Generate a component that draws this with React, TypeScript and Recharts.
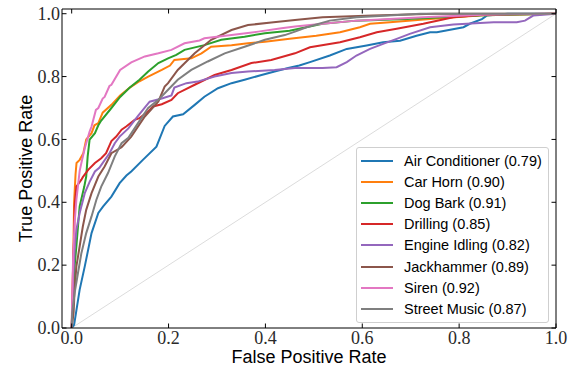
import { Legend, Line, LineChart, ReferenceLine, XAxis, YAxis } from "recharts"

const classNames = [
  "Air Conditioner",
  "Car Horn",
  "Dog Bark",
  "Drilling",
  "Engine Idling",
  "Jackhammer",
  "Siren",
  "Street Music",
]
const aucScores = [0.79, 0.9, 0.91, 0.85, 0.82, 0.89, 0.92, 0.87]
const colors = ["#1f77b4", "#ff7f0e", "#2ca02c", "#d62728", "#9467bd", "#8c564b", "#e377c2", "#7f7f7f"]

const tickValues = [0, 0.2, 0.4, 0.6, 0.8, 1.0]

const airConditionerFpr = [0, 0.005, 0.0165, 0.027, 0.041, 0.055, 0.065, 0.082, 0.099, 0.113, 0.123, 0.147, 0.175, 0.192, 0.209, 0.23, 0.254, 0.274, 0.302, 0.33, 0.357, 0.392, 0.419, 0.447, 0.47, 0.492, 0.533, 0.568, 0.609, 0.643, 0.678, 0.712, 0.74, 0.754, 0.809, 0.822, 0.847, 0.857, 0.9, 1]
const airConditionerTpr = [0, 0.01, 0.122, 0.196, 0.302, 0.366, 0.387, 0.418, 0.461, 0.485, 0.498, 0.535, 0.577, 0.643, 0.673, 0.68, 0.71, 0.736, 0.763, 0.779, 0.79, 0.805, 0.816, 0.827, 0.835, 0.846, 0.867, 0.888, 0.899, 0.909, 0.914, 0.93, 0.941, 0.941, 0.957, 0.968, 0.983, 0.994, 1, 1]

const carHornFpr = [0, 0.003, 0.005, 0.008, 0.01, 0.0165, 0.024, 0.03, 0.041, 0.047, 0.055, 0.064, 0.082, 0.1, 0.12, 0.14, 0.158, 0.186, 0.203, 0.212, 0.247, 0.268, 0.288, 0.33, 0.364, 0.399, 0.45, 0.505, 0.554, 0.595, 0.616, 0.657, 0.74, 0.85, 1]
const carHornTpr = [0, 0.2, 0.4, 0.49, 0.525, 0.535, 0.556, 0.6, 0.62, 0.645, 0.652, 0.685, 0.71, 0.74, 0.765, 0.785, 0.8, 0.821, 0.835, 0.853, 0.858, 0.874, 0.895, 0.9, 0.906, 0.911, 0.92, 0.93, 0.941, 0.957, 0.968, 0.973, 0.983, 0.995, 1]

const dogBarkFpr = [0, 0.004, 0.006, 0.0097, 0.013, 0.0165, 0.026, 0.03, 0.033, 0.037, 0.048, 0.055, 0.061, 0.082, 0.1, 0.12, 0.14, 0.158, 0.179, 0.199, 0.216, 0.233, 0.274, 0.309, 0.357, 0.399, 0.45, 0.518, 0.588, 0.692, 0.85, 1]
const dogBarkTpr = [0, 0.1, 0.196, 0.26, 0.323, 0.387, 0.45, 0.482, 0.546, 0.599, 0.62, 0.645, 0.66, 0.7, 0.735, 0.765, 0.79, 0.816, 0.843, 0.858, 0.869, 0.885, 0.9, 0.917, 0.927, 0.938, 0.946, 0.968, 0.978, 0.983, 0.995, 1]

const drillingFpr = [0, 0.002, 0.003, 0.005, 0.006, 0.0097, 0.02, 0.023, 0.034, 0.048, 0.061, 0.071, 0.082, 0.092, 0.103, 0.1125, 0.13, 0.14, 0.158, 0.168, 0.186, 0.206, 0.219, 0.254, 0.295, 0.33, 0.371, 0.412, 0.461, 0.492, 0.554, 0.595, 0.63, 0.671, 0.726, 0.788, 0.85, 1]
const drillingTpr = [0, 0.1, 0.217, 0.281, 0.387, 0.45, 0.472, 0.48, 0.503, 0.525, 0.54, 0.556, 0.595, 0.609, 0.631, 0.641, 0.662, 0.668, 0.689, 0.705, 0.712, 0.726, 0.747, 0.774, 0.805, 0.821, 0.843, 0.853, 0.874, 0.893, 0.909, 0.925, 0.941, 0.952, 0.968, 0.989, 0.997, 1]

const engineIdlingFpr = [0, 0.002, 0.003, 0.006, 0.0097, 0.0165, 0.027, 0.037, 0.048, 0.057, 0.078, 0.089, 0.099, 0.117, 0.137, 0.161, 0.186, 0.206, 0.212, 0.237, 0.26, 0.295, 0.33, 0.364, 0.419, 0.461, 0.518, 0.547, 0.568, 0.588, 0.616, 0.643, 0.671, 0.698, 0.74, 0.788, 0.871, 0.919, 0.936, 0.953, 1]
const engineIdlingTpr = [0, 0.08, 0.154, 0.249, 0.313, 0.366, 0.429, 0.465, 0.498, 0.51, 0.556, 0.588, 0.609, 0.635, 0.675, 0.72, 0.73, 0.74, 0.765, 0.779, 0.784, 0.8, 0.811, 0.816, 0.821, 0.827, 0.827, 0.83, 0.846, 0.867, 0.888, 0.904, 0.92, 0.936, 0.957, 0.966, 0.973, 0.973, 0.978, 0.994, 1]

const jackhammerFpr = [0, 0.004, 0.006, 0.0097, 0.0165, 0.023, 0.03, 0.041, 0.055, 0.068, 0.082, 0.103, 0.123, 0.151, 0.179, 0.192, 0.199, 0.219, 0.254, 0.288, 0.33, 0.364, 0.412, 0.461, 0.518, 0.622, 0.75, 1]
const jackhammerTpr = [0, 0.05, 0.122, 0.196, 0.26, 0.323, 0.376, 0.429, 0.482, 0.514, 0.556, 0.575, 0.609, 0.673, 0.721, 0.768, 0.779, 0.821, 0.874, 0.917, 0.948, 0.964, 0.972, 0.98, 0.989, 0.994, 1, 1]

const sirenFpr = [0, 0.001, 0.003, 0.006, 0.0097, 0.0165, 0.02, 0.027, 0.037, 0.041, 0.05, 0.055, 0.064, 0.068, 0.078, 0.082, 0.1, 0.123, 0.151, 0.179, 0.206, 0.233, 0.264, 0.274, 0.33, 0.385, 0.433, 0.461, 0.518, 0.588, 0.725, 0.85, 1]
const sirenTpr = [0, 0.09, 0.228, 0.334, 0.408, 0.5, 0.525, 0.572, 0.625, 0.641, 0.694, 0.7, 0.73, 0.735, 0.77, 0.774, 0.821, 0.845, 0.864, 0.874, 0.885, 0.906, 0.915, 0.922, 0.932, 0.943, 0.954, 0.959, 0.968, 0.978, 0.989, 0.997, 1]

const streetMusicFpr = [0, 0.001, 0.006, 0.013, 0.02, 0.03, 0.041, 0.051, 0.061, 0.075, 0.089, 0.103, 0.117, 0.137, 0.158, 0.179, 0.199, 0.219, 0.247, 0.281, 0.316, 0.357, 0.399, 0.44, 0.461, 0.485, 0.533, 0.588, 0.72, 1]
const streetMusicTpr = [0, 0.048, 0.111, 0.175, 0.238, 0.302, 0.355, 0.408, 0.45, 0.493, 0.546, 0.588, 0.605, 0.652, 0.7, 0.726, 0.758, 0.79, 0.821, 0.848, 0.874, 0.895, 0.917, 0.932, 0.943, 0.957, 0.978, 0.989, 1, 1]

const chanceFpr = [0, 1]
const chanceTpr = [0, 1]

const fprLists = [airConditionerFpr, carHornFpr, dogBarkFpr, drillingFpr, engineIdlingFpr, jackhammerFpr, sirenFpr, streetMusicFpr]
const tprLists = [airConditionerTpr, carHornTpr, dogBarkTpr, drillingTpr, engineIdlingTpr, jackhammerTpr, sirenTpr, streetMusicTpr]

const zip = (fpr: number[], tpr: number[]) => fpr.map((f, i) => ({ fpr: f, tpr: tpr[i] }))

const curves = classNames.map((name, i) => ({
  name,
  label: `${name} (${aucScores[i].toFixed(2)})`,
  color: colors[i],
  data: zip(fprLists[i], tprLists[i]),
}))
const chanceData = zip(chanceFpr, chanceTpr)

const X_MIN = -0.02
const X_MAX = 1
const Y_MIN = 0
const Y_MAX = 1.015

const serif = "'Liberation Serif', 'DejaVu Serif', serif"
const sans = "'Liberation Sans', Arial, sans-serif"
const TICK = 4.5
// inward tick length for top/right spines, in data units (plot is 494 x 319 px)
const TOP_TICK = (TICK / 319) * (Y_MAX - Y_MIN)
const RIGHT_TICK = (TICK / 494) * (X_MAX - X_MIN)

function BottomTick(props: any) {
  const { x, y, payload } = props
  const y0 = y - 3
  return (
    <g>
      <line x1={x} x2={x} y1={y0} y2={y0 - TICK} stroke="#000" strokeWidth={1} />
      <text x={x} y={y} dy="0.72em" textAnchor="middle" fontFamily={serif} fontSize={18} fill="#2a2a2a">
        {payload.value.toFixed(1)}
      </text>
    </g>
  )
}

function LeftTick(props: any) {
  const { x, y, payload } = props
  const x0 = x + 2
  return (
    <g>
      <line x1={x0} x2={x0 + TICK} y1={y} y2={y} stroke="#000" strokeWidth={1} />
      <text x={x} y={y} dy="0.34em" textAnchor="end" fontFamily={serif} fontSize={18} fill="#2a2a2a">
        {payload.value.toFixed(1)}
      </text>
    </g>
  )
}

function LegendBox() {
  return (
    <div
      style={{
        boxSizing: "border-box",
        width: 193,
        padding: "2px 0 2px 4px",
        border: "1px solid #cfcfcf",
        borderRadius: 3,
        background: "rgba(255,255,255,0.8)",
        fontFamily: sans,
        fontSize: 14.5,
        color: "#000",
      }}
    >
      {curves.map((c) => (
        <div key={c.name} style={{ display: "flex", alignItems: "center", height: 21.2 }}>
          <span style={{ display: "inline-block", width: 32, height: 2, background: c.color, marginRight: 11 }} />
          <span style={{ whiteSpace: "nowrap" }}>{c.label}</span>
        </div>
      ))}
    </div>
  )
}

export default function App() {
  return (
    <div style={{ position: "absolute", left: 0, top: 0, width: 580, height: 370, background: "#fff" }}>
      <LineChart width={580} height={370} margin={{ top: 9, right: 24, bottom: 0, left: 0 }}>
        <XAxis
          dataKey="fpr"
          type="number"
          domain={[X_MIN, X_MAX]}
          ticks={tickValues}
          allowDataOverflow
          interval={0}
          height={42}
          tickSize={0}
          tickMargin={3}
          tickLine={false}
          axisLine={{ stroke: "#000", strokeWidth: 1 }}
          tick={<BottomTick />}
          label={{ value: "False Positive Rate", position: "insideBottom", offset: 7, fontSize: 18, fill: "#000", fontFamily: sans }}
        />
        <YAxis
          type="number"
          domain={[Y_MIN, Y_MAX]}
          ticks={tickValues}
          allowDataOverflow
          interval={0}
          width={62}
          tickSize={0}
          tickMargin={2}
          tickLine={false}
          axisLine={{ stroke: "#000", strokeWidth: 1 }}
          tick={<LeftTick />}
          label={{ value: "True Positive Rate", angle: -90, position: "insideLeft", offset: 26, fontSize: 18, fill: "#000", fontFamily: sans, style: { textAnchor: "middle" } }}
        />
        <Line
          data={chanceData}
          dataKey="tpr"
          stroke="#dcdcdc"
          strokeWidth={1}
          dot={false}
          activeDot={false}
          legendType="none"
          isAnimationActive={false}
        />
        {curves.map((c) => (
          <Line
            key={c.name}
            data={c.data}
            dataKey="tpr"
            name={c.label}
            stroke={c.color}
            strokeWidth={2}
            dot={false}
            activeDot={false}
            isAnimationActive={false}
          />
        ))}
        {/* top and right spines with inward ticks */}
        <ReferenceLine y={Y_MAX} stroke="#000" strokeWidth={1} ifOverflow="visible" />
        <ReferenceLine x={X_MAX} stroke="#000" strokeWidth={1} ifOverflow="visible" />
        {tickValues.map((t) => (
          <ReferenceLine
            key={`top-${t}`}
            segment={[{ x: t, y: Y_MAX }, { x: t, y: Y_MAX - TOP_TICK }]}
            stroke="#000"
            strokeWidth={1}
            ifOverflow="visible"
          />
        ))}
        {tickValues.map((t) => (
          <ReferenceLine
            key={`right-${t}`}
            segment={[{ x: X_MAX, y: t }, { x: X_MAX - RIGHT_TICK, y: t }]}
            stroke="#000"
            strokeWidth={1}
            ifOverflow="visible"
          />
        ))}
        <Legend
          layout="vertical"
          align="center"
          verticalAlign="middle"
          wrapperStyle={{ position: "absolute", left: 356, top: 147, width: 193 }}
          content={() => <LegendBox />}
        />
      </LineChart>
    </div>
  )
}
